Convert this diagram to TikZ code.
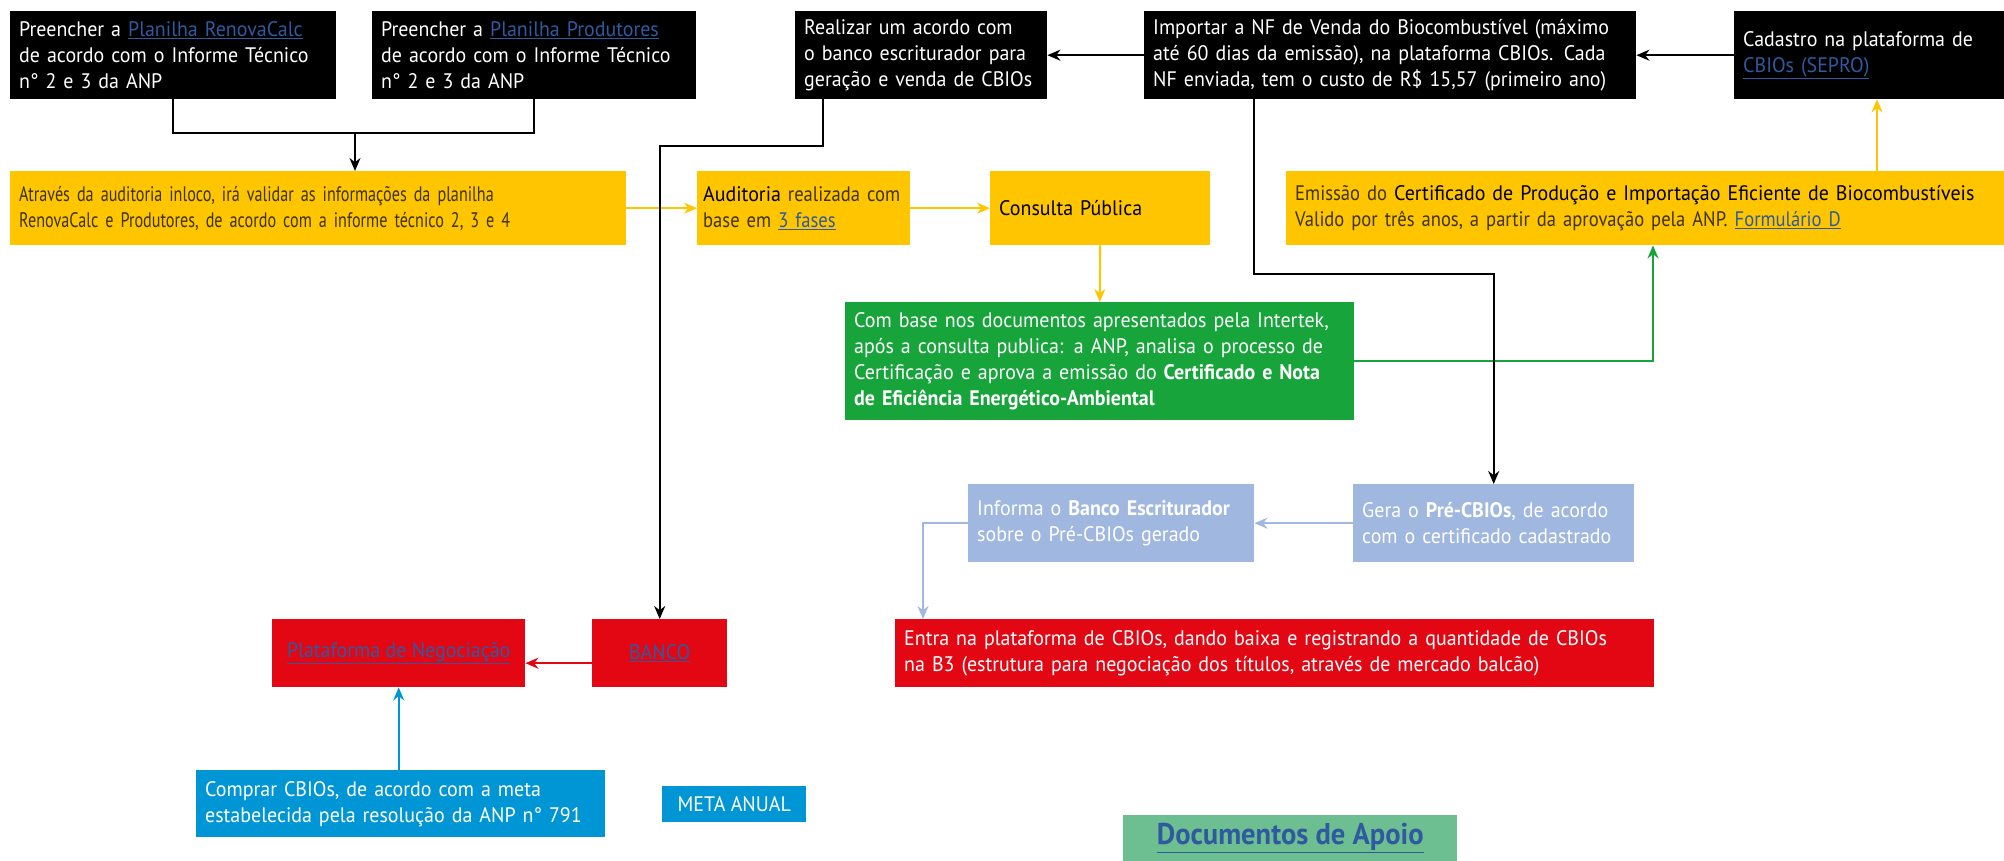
\documentclass[tikz,border=0pt]{standalone}
\usepackage{fontspec}
\setmainfont{PT Sans}[FakeStretch=0.95]
\newfontfamily\ltf{PT Sans}[FakeStretch=0.77]
\newfontfamily\ltg{PT Sans}[FakeStretch=0.885]
\usetikzlibrary{arrows.meta,calc}
\definecolor{ylw}{HTML}{FFC600}
\definecolor{grn}{HTML}{17A43A}
\definecolor{lblue}{HTML}{A0B7E0}
\definecolor{rd}{HTML}{E30613}
\definecolor{blu}{HTML}{0096D6}
\definecolor{docg}{HTML}{6DBE90}
\definecolor{lnkc}{HTML}{2F5AA0}
\definecolor{ltxt}{HTML}{3D3300}
\newcommand\lnk[1]{\textcolor{lnkc}{\underline{#1}}}
\newcommand\fs{\fontsize{21}{26}\selectfont}
\newcommand\lt[1]{{\ltf\color{ltxt}#1}}
\newcommand\lgt[1]{{\ltg\color{ltxt}#1}}
\tikzset{
  bx/.style={anchor=north west, inner xsep=9pt, inner ysep=0pt, align=left, font=\fs},
  blk/.style={bx, fill=black, text=white},
  yl/.style={bx, fill=ylw, text=black},
  gr/.style={bx, fill=grn, text=white},
  lb/.style={bx, fill=lblue, text=white},
  rb/.style={bx, fill=rd, text=white},
  bb/.style={bx, fill=blu, text=white},
  ln/.style={line width=2pt, draw=black},
  arr/.style={line width=2pt, -{Stealth[length=13pt,width=11pt]}},
}
\begin{document}
\begin{tikzpicture}[x=1pt,y=-1pt]
\useasboundingbox (0,0) rectangle (2004,861);
% black row
\node[blk, minimum width=326pt, minimum height=88pt, text width=308pt] (b1) at (10,11)
  {Preencher a \lnk{Planilha RenovaCalc}\\de acordo com o Informe Técnico\\n° 2 e 3 da ANP};
\node[blk, minimum width=324pt, minimum height=88pt, text width=306pt] (b2) at (372,11)
  {Preencher a \lnk{Planilha Produtores}\\de acordo com o Informe Técnico\\n° 2 e 3 da ANP};
\node[blk, minimum width=252pt, minimum height=88pt, text width=234pt] (b3) at (795,11)
  {Realizar um acordo com\\o banco escriturador para\\geração e venda de CBIOs};
\node[blk, minimum width=492pt, minimum height=88pt, text width=474pt] (b4) at (1144,11)
  {Importar a NF de Venda do Biocombustível (máximo\\até 60 dias da emissão), na plataforma CBIOs. Cada\\NF enviada, tem o custo de R\$ 15,57 (primeiro ano)};
\node[blk, minimum width=270pt, minimum height=88pt, text width=252pt] (b5) at (1734,11)
  {Cadastro na plataforma de\\\lnk{CBIOs (SEPRO)}};
% yellow row
\node[yl, minimum width=616pt, minimum height=74pt, text width=598pt] (ya) at (10,171)
  {\lt{Através da auditoria inloco, irá validar as informações da planilha}\\\lt{RenovaCalc e Produtores, de acordo com a informe técnico 2, 3 e 4}};
\node[yl, minimum width=213pt, minimum height=74pt, inner xsep=6pt, text width=201pt] (yb) at (697,171)
  {Auditoria \lgt{realizada com}\\\lgt{base em} {\ltg\lnk{3 fases}}};
\node[yl, minimum width=220pt, minimum height=74pt, text width=202pt] (yc) at (990,171)
  {Consulta Pública};
\node[yl, minimum width=718pt, minimum height=74pt, text width=700pt] (ye) at (1286,171)
  {\lgt{Emissão do} Certificado de Produção e Importação Eficiente de Biocombustíveis\\\lgt{Valido por três anos, a partir da aprovação pela ANP.} {\ltg\lnk{Formulário D}}};
% green
\node[gr, minimum width=509pt, minimum height=118pt, text width=491pt] (gd) at (845,302)
  {Com base nos documentos apresentados pela Intertek,\\após a consulta publica: a ANP, analisa o processo de\\Certificação e aprova a emissão do \textbf{Certificado e Nota}\\\textbf{de Eficiência Energético-Ambiental}};
% light blue
\node[lb, minimum width=281pt, minimum height=78pt, text width=263pt] (f) at (1353,484)
  {Gera o \textbf{Pré-CBIOs}, de acordo\\com o certificado cadastrado};
\node[lb, minimum width=286pt, minimum height=78pt, text width=268pt] (g) at (968,484)
  {Informa o \textbf{Banco Escriturador}\\sobre o Pré-CBIOs gerado};
% red
\node[rb, minimum width=759pt, minimum height=68pt, text width=741pt] (h) at (895,619)
  {Entra na plataforma de CBIOs, dando baixa e registrando a quantidade de CBIOs\\na B3 (estrutura para negociação dos títulos, através de mercado balcão)};
\node[rb, minimum width=135pt, minimum height=68pt, align=center] (banco) at (592,619)
  {\lnk{BANCO}};
\node[rb, minimum width=253pt, minimum height=68pt, align=center] (plat) at (272,619)
  {\lnk{Plataforma de Negociação}};
% blue
\node[bb, minimum width=409pt, minimum height=67pt, text width=391pt] (comp) at (196,770)
  {Comprar CBIOs, de acordo com a meta\\estabelecida pela resolução da ANP n° 791};
\node[bb, minimum width=144pt, minimum height=36pt, align=center] (meta) at (662,786)
  {META ANUAL};
\node[bx, fill=docg, minimum width=334pt, minimum height=46pt, align=center, inner ysep=0pt,
  font=\fontsize{30}{34}\selectfont\bfseries] (docs) at (1123,815)
  {\lnk{Documentos de Apoio}};
% connectors
\draw[ln] (b1.south) -- ++(0,34) -| (b2.south);
\coordinate (j1) at (355,133);
\draw[arr] (j1) -- (j1 |- ya.north);
\draw[arr] (b4.west) -- (b3.east);
\draw[arr] (b5.west) -- (b4.east);
\draw[arr, ylw] (ya.east) -- (yb.west);
\draw[arr, ylw] (yb.east) -- (yc.west);
\draw[arr, ylw] (yc.south) -- (gd.north);
\coordinate (e2) at ([xshift=367pt]ye.south west);
\draw[arr, grn] (gd.east) -| (e2);
\coordinate (e1) at ([xshift=591pt]ye.north west);
\draw[arr, ylw] (e1) -- (e1 |- b5.south);
\coordinate (k1) at ([xshift=110pt]b4.south west);
\draw[arr] (k1) -- ++(0,175) -| (f.north);
\draw[arr, lblue] (f.west) -- (g.east);
\coordinate (h1) at ([xshift=28pt]h.north west);
\draw[arr, lblue] (g.west) -| (h1);
\coordinate (m1) at ([xshift=28pt]b3.south west);
\draw[arr] (m1) -- ++(0,47) -| (banco.north);
\coordinate (r1) at ([yshift=-10pt]banco.west);
\draw[arr, rd] (r1) -- (r1 -| plat.east);
\draw[arr, blu] (plat.south |- comp.north) -- (plat.south);
\end{tikzpicture}
\end{document}
